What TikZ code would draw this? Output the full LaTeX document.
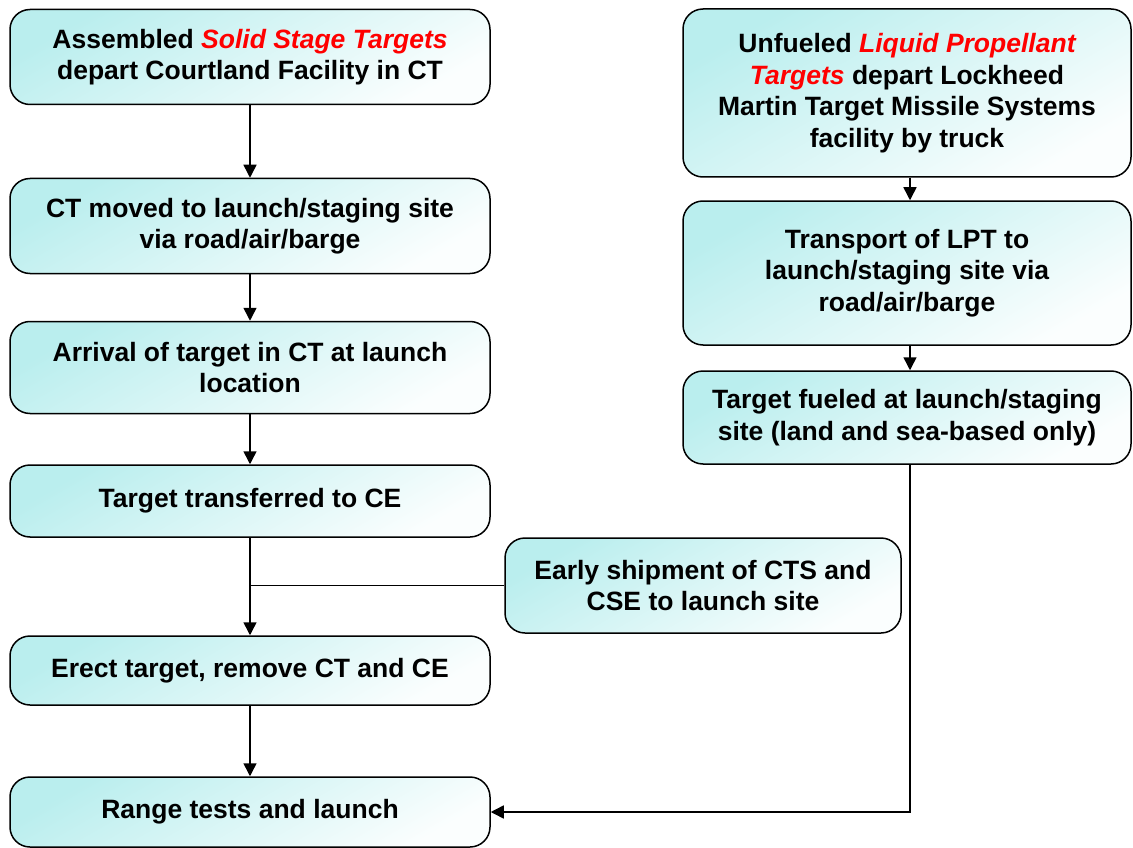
\documentclass[tikz,border=0pt]{standalone}
\usepackage{fontspec}
\setmainfont{Liberation Sans}
\usetikzlibrary{arrows.meta}
\definecolor{boxtop}{RGB}{186,238,238}
\definecolor{hilite}{RGB}{255,0,0}
\tikzset{
  stepbox/.style={draw=black, line width=1.5pt, rounded corners=20pt,
    top color=boxtop, bottom color=boxtop!6, shading angle=30,
    align=center, inner sep=0pt,
    font=\fontsize{26.5}{31.5}\selectfont\bfseries},
  flow/.style={line width=1.5pt, -{Triangle[length=13pt,width=13pt]}},
  plain/.style={line width=1.5pt}
}
\newcommand{\hl}[1]{\textcolor{hilite}{\itshape #1}}
\begin{document}
\begin{tikzpicture}[x=1pt,y=-1pt]
\useasboundingbox (0,0) rectangle (1133,848);

% left column
\node[stepbox, minimum width=480pt, minimum height=95pt] (a1) at (250,57)
  {Assembled \hl{Solid Stage Targets}\\depart Courtland Facility in CT};
\node[stepbox, minimum width=480pt, minimum height=95pt] (a2) at (250,226)
  {CT moved to launch/staging site\\via road/air/barge};
\node[stepbox, minimum width=480pt, minimum height=92pt] (a3) at (250,367.5)
  {Arrival of target in CT at launch\\location};
\node[stepbox, minimum width=480pt, minimum height=72pt] (a4) at (250,501)
  {Target transferred to CE};
\node[stepbox, minimum width=480pt, minimum height=69pt] (a5) at (250,670.5)
  {Erect target, remove CT and CE};
\node[stepbox, minimum width=480pt, minimum height=70pt] (a6) at (250,812)
  {Range tests and launch};

% right column
\node[stepbox, minimum width=448pt, minimum height=168pt] (b1) at (907,93)
  {Unfueled \hl{Liquid Propellant}\\\hl{Targets} depart Lockheed\\Martin Target Missile Systems\\facility by truck};
\node[stepbox, minimum width=448pt, minimum height=144pt] (b2) at (907,273)
  {Transport of LPT to\\launch/staging site via\\road/air/barge};
\node[stepbox, minimum width=448pt, minimum height=93pt] (b3) at (907,417.5)
  {Target fueled at launch/staging\\site (land and sea-based only)};

% side shipment
\node[stepbox, minimum width=396pt, minimum height=95pt] (e) at (703,585.5)
  {Early shipment of CTS and\\CSE to launch site};

% connectors
\coordinate (j) at (a4.south |- e.west);
\coordinate (k) at (910,0);
\draw[flow] (a1) -- (a2);
\draw[flow] (a2) -- (a3);
\draw[flow] (a3) -- (a4);
\draw[flow] (a4) -- (a5);
\draw[plain] (e.west) -- (j);
\draw[flow] (a5) -- (a6);
\draw[flow] (b1.south -| k) -- (b2.north -| k);
\draw[flow] (b2.south -| k) -- (b3.north -| k);
\draw[flow] (b3.south -| k) |- (a6.east);
\end{tikzpicture}
\end{document}
